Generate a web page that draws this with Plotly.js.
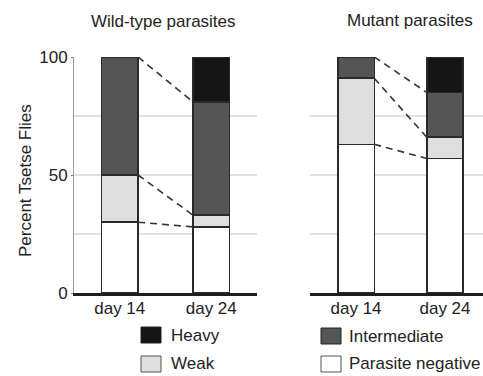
<!DOCTYPE html>
<html>
<head>
<meta charset="utf-8">
<script src="https://cdn.plot.ly/plotly-3.0.1.min.js"></script>
<style>html,body{margin:0;padding:0;background:#fff;}#chart{width:483px;height:376px;}</style>
</head>
<body>
<div id="chart"></div>
<script>
// ---- data ----
const categories = ['day 14', 'day 24'];
const seriesNames = ['Parasite negative', 'Weak', 'Intermediate', 'Heavy'];
const wildNegative = [30, 28];
const wildWeak = [20, 5];
const wildIntermediate = [50, 48];
const wildHeavy = [0, 19];
const mutantNegative = [63, 57];
const mutantWeak = [28, 9];
const mutantIntermediate = [9, 19];
const mutantHeavy = [0, 15];
const panelTitles = ['Wild-type parasites', 'Mutant parasites'];
const yTitle = 'Percent Tsetse Flies';
const yTickVals = [0, 50, 100];
const gridVals = [25, 50, 75];

// ---- style ----
const W = 483, H = 376;
const M = {l: 74, r: 0, t: 57, b: 83};
const PW = W - M.l - M.r, PH = H - M.t - M.b;
const FONT = '"Liberation Sans", Arial, Helvetica, sans-serif';
const TXT = '#222';
const colors = ['#ffffff', '#dedede', '#555555', '#151515'];
const outline = '#2a2a2a';
const px2x = p => (p - M.l) / PW;
const px2y = p => (H - M.b - p) / PH;

const panels = [
  {xa: 'x', ya: 'y', width: 0.40, series: [wildNegative, wildWeak, wildIntermediate, wildHeavy]},
  {xa: 'x2', ya: 'y2', width: 0.41, series: [mutantNegative, mutantWeak, mutantIntermediate, mutantHeavy]}
];
const xIdx = categories.map((c, i) => i);

const traces = [];
panels.forEach(p => {
  p.series.forEach((vals, s) => {
    traces.push({
      type: 'bar', x: xIdx, y: vals, name: seriesNames[s],
      xaxis: p.xa, yaxis: p.ya, width: p.width, showlegend: false,
      marker: {color: colors[s], line: {color: outline, width: 1.5}},
      hoverinfo: 'y+name'
    });
  });
  // dashed connectors between cumulative boundaries
  const cum0 = [], cum1 = [];
  let a = 0, b = 0;
  for (let s = 0; s < 3; s++) {
    a += p.series[s][0]; b += p.series[s][1];
    cum0.push(a); cum1.push(b);
  }
  cum0.forEach((v, k) => {
    traces.push({
      type: 'scatter', mode: 'lines', xaxis: p.xa, yaxis: p.ya,
      x: [xIdx[0] + p.width / 2, xIdx[1] - p.width / 2], y: [v, cum1[k]],
      line: {color: '#333', width: 1.6, dash: '7px,5px'},
      showlegend: false, hoverinfo: 'skip'
    });
  });
});

const shapes = [];
['x', 'x2'].forEach((xa, i) => {
  const ya = i === 0 ? 'y' : 'y2';
  gridVals.forEach(v => shapes.push({
    type: 'line', layer: 'below', xref: xa + ' domain', yref: ya,
    x0: 0, x1: 1, y0: v, y1: v, line: {color: '#c4c4c4', width: 1}
  }));
});

// manual legend (2 x 2)
const legendPos = [ // box left/top px and text start px
  {s: 3, x: 141, y: 327, tx: 169}, {s: 2, x: 321, y: 328, tx: 347},
  {s: 1, x: 141, y: 356, tx: 169}, {s: 0, x: 321, y: 356, tx: 347}
];
const annotations = [];
legendPos.forEach(L => {
  shapes.push({
    type: 'rect', xref: 'paper', yref: 'paper', layer: 'above',
    x0: px2x(L.x), x1: px2x(L.x + 20), y0: px2y(L.y + 16), y1: px2y(L.y),
    fillcolor: colors[L.s], line: {color: L.s < 2 ? '#555' : '#222', width: 1}
  });
  annotations.push({
    xref: 'paper', yref: 'paper', x: px2x(L.tx), y: px2y(L.y + 8),
    xanchor: 'left', yanchor: 'middle', showarrow: false,
    text: seriesNames[L.s], font: {family: FONT, size: 17, color: TXT}
  });
});
annotations.push({
  xref: 'paper', yref: 'paper', x: px2x(163), y: px2y(22), xanchor: 'center', yanchor: 'middle',
  showarrow: false, text: panelTitles[0], font: {family: FONT, size: 17, color: TXT}
});
annotations.push({
  xref: 'paper', yref: 'paper', x: px2x(410), y: px2y(21), xanchor: 'center', yanchor: 'middle',
  showarrow: false, text: panelTitles[1], font: {family: FONT, size: 17, color: TXT}
});
annotations.push({
  xref: 'paper', yref: 'paper', x: px2x(25), y: px2y(181), xanchor: 'center', yanchor: 'middle',
  textangle: -90, showarrow: false, text: yTitle, font: {family: FONT, size: 17, color: TXT}
});

const xCommon = {
  tickmode: 'array', tickvals: xIdx, ticktext: categories,
  showgrid: false, zeroline: false, showline: true, linecolor: '#1e1e1e', linewidth: 2.5,
  ticks: '', tickfont: {family: FONT, size: 17, color: TXT}, fixedrange: true,
  ticklabelstandoff: -2
};
const layout = {
  width: W, height: H, margin: M, paper_bgcolor: '#fff', plot_bgcolor: 'rgba(0,0,0,0)',
  barmode: 'stack', showlegend: false, font: {family: FONT, color: TXT},
  xaxis: Object.assign({}, xCommon, {domain: [0, 183 / PW], range: [-0.5, 1.5], anchor: 'y'}),
  xaxis2: Object.assign({}, xCommon, {domain: [236 / PW, 1], range: [-0.517, 1.427], anchor: 'y2'}),
  yaxis: {
    range: [0, 100], tickmode: 'array', tickvals: yTickVals, showgrid: false, zeroline: false,
    showline: true, linecolor: '#9a9a9a', linewidth: 1, ticks: 'outside', ticklen: 2, tickcolor: '#777',
    tickfont: {family: FONT, size: 17, color: TXT}, anchor: 'x', fixedrange: true
  },
  yaxis2: {
    range: [0, 100], showgrid: false, zeroline: false, showline: false, showticklabels: false,
    ticks: '', anchor: 'x2', fixedrange: true
  },
  shapes: shapes, annotations: annotations
};
Plotly.newPlot('chart', traces, layout, {staticPlot: true, displayModeBar: false});
</script>
</body>
</html>
